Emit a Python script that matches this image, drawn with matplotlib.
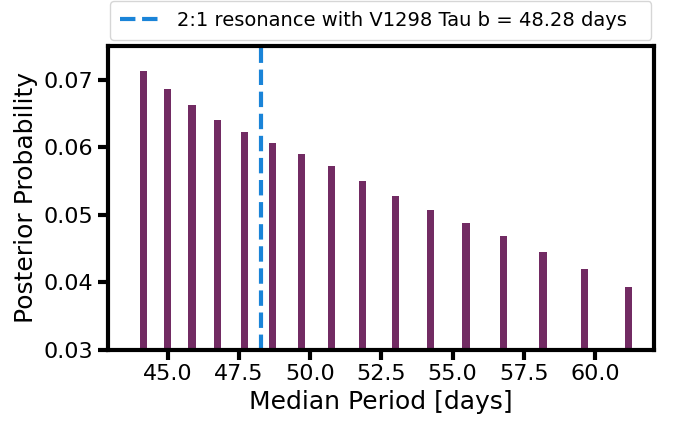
import numpy as np
import matplotlib
matplotlib.use("Agg")
import matplotlib.pyplot as plt

# median period of each bin [days] and posterior probability
periods = [44.16, 45.00, 45.86, 46.76, 47.70, 48.67, 49.69, 50.74, 51.84,
           53.00, 54.21, 55.47, 56.79, 58.17, 59.63, 61.16]
probs = [0.07125, 0.06866, 0.06619, 0.06411, 0.06232, 0.06068, 0.05905,
         0.05716, 0.05503, 0.05284, 0.05076, 0.04878, 0.04679, 0.04455,
         0.04202, 0.03930]
resonance = 48.28

fig = plt.figure(figsize=(6.73, 4.22), dpi=100)
ax = fig.add_axes([0.160, 0.171, 0.812, 0.720])

ax.bar(periods, probs, width=0.25, color='#722b63')
ax.axvline(resonance, color='#1a84d8', ls='--', lw=3,
           label='2:1 resonance with V1298 Tau b = %.2f days' % resonance)

ax.set_ylim(0.03, 0.075)
ax.set_xlim(42.9, 62.07)
ax.set_xticks([45.0, 47.5, 50.0, 52.5, 55.0, 57.5, 60.0])
ax.set_yticks([0.03, 0.04, 0.05, 0.06, 0.07])
ax.tick_params(labelsize=16, width=3, length=7)
for s in ax.spines.values():
    s.set_linewidth(3)
ax.set_xlabel('Median Period [days]', fontsize=18)
ax.set_ylabel('Posterior Probability', fontsize=18)

ax.legend(bbox_to_anchor=(0.005, 1.02, 0.99, 0.11), loc='lower left', mode='expand',
          fontsize=14, handlelength=2.0, handletextpad=0.9, borderpad=0.5,
          borderaxespad=0)

fig.savefig('out.png', dpi=100)
